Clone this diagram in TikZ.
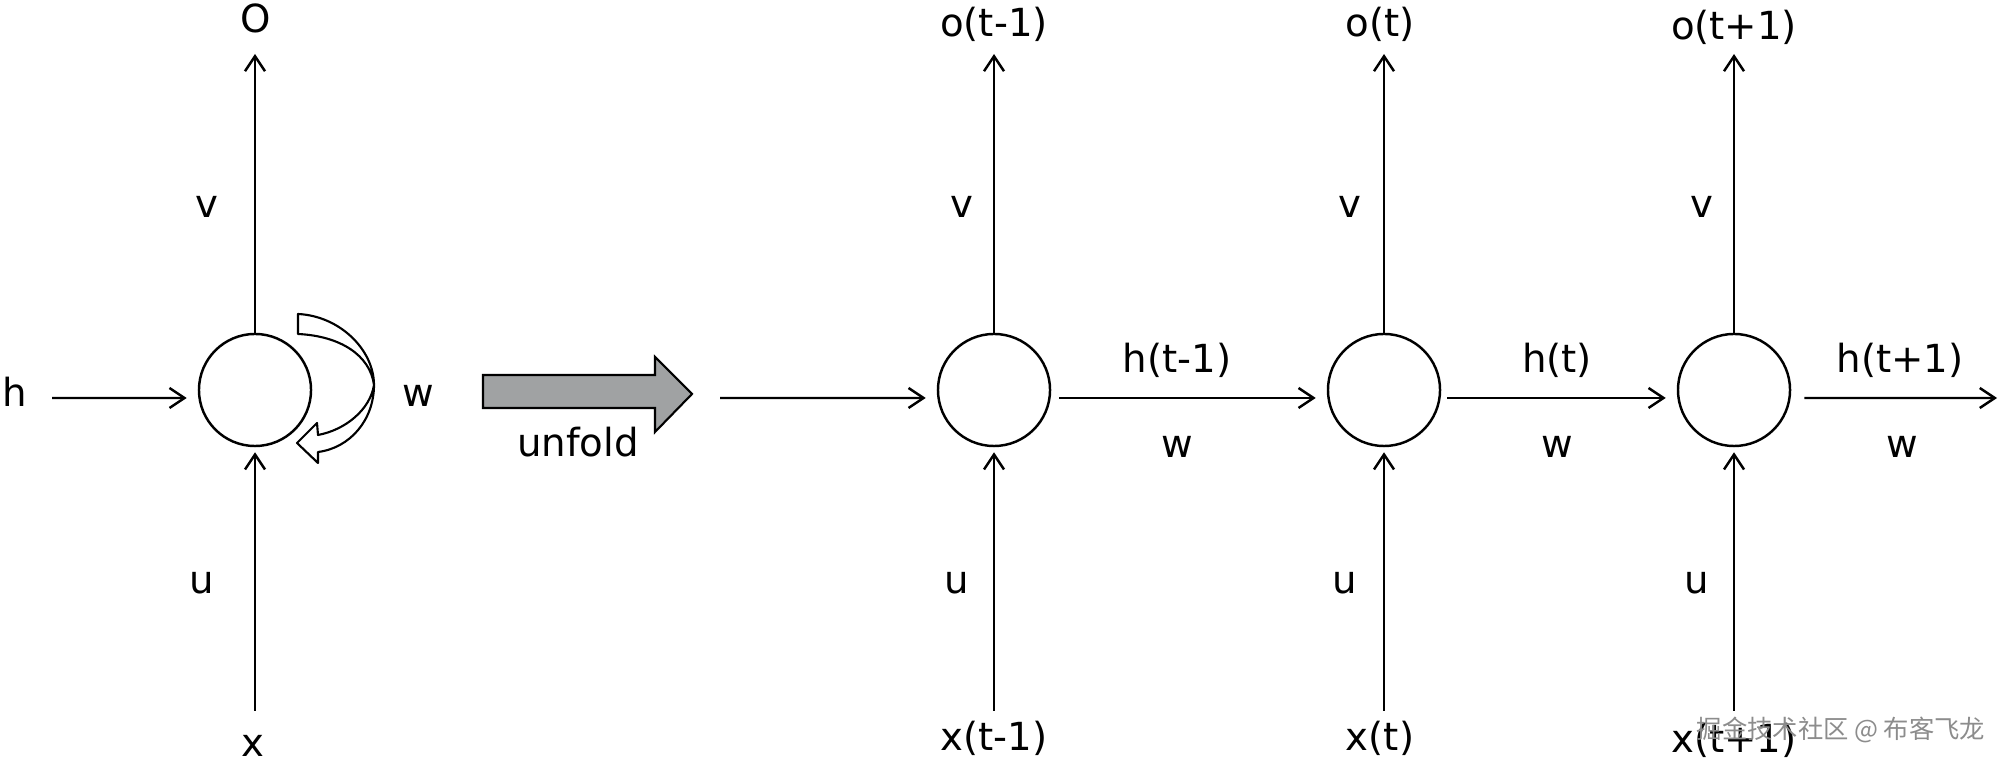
\documentclass[tikz,border=0pt]{standalone}
\usepackage{fontspec}
\setmainfont{DejaVu Sans}
\newfontfamily\cjk{Noto Sans CJK SC}
\usetikzlibrary{arrows.meta}
\definecolor{unfoldgray}{RGB}{160,162,163}
\begin{document}
\begin{tikzpicture}[x=0.01cm,y=-0.01cm,
  cell/.style={circle,draw,line width=0.7pt,minimum size=1.12cm,inner sep=0pt},
  lab/.style={anchor=base,inner sep=0pt,font=\fontsize{11pt}{13pt}\selectfont},
  conn/.style={line width=0.7pt,-{Straight Barb[length=0.15cm,width=0.2cm,line width=0.7pt]}},
  wm/.style={anchor=center,inner sep=0pt,text=black!45,font=\cjk\fontsize{7.2pt}{8pt}\selectfont}
]
\useasboundingbox (0,0) rectangle (2000,765);

% cells
\node[cell] (c1) at (255,390) {};
\node[cell] (c2) at (994,390) {};
\node[cell] (c3) at (1384,390) {};
\node[cell] (c4) at (1734,390) {};

% labels folded
\node[lab] (O) at (256,33) {O};
\node[lab] (v1) at (207,218) {v};
\node[lab] (u1) at (202,594) {u};
\node[lab] (x1) at (253,757) {x};
\node[lab] (h1) at (15,407) {h};
\node[lab] (w1) at (418,407) {w};
\node[lab] (unfold) at (578,457) {unfold};

% labels unfolded
\node[lab] (o2) at (994,37) {o(t-1)};
\node[lab] (o3) at (1380,37) {o(t)};
\node[lab] (o4) at (1734,40) {o(t+1)};
\node[lab] (x2) at (994,751) {x(t-1)};
\node[lab] (x3) at (1380,751) {x(t)};
\node[lab] (x4) at (1734,753) {x(t+1)};
\node[lab] (v2) at (962,218) {v};
\node[lab] (v3) at (1350,218) {v};
\node[lab] (v4) at (1702,218) {v};
\node[lab] (u2) at (957,594) {u};
\node[lab] (u3) at (1345,594) {u};
\node[lab] (u4) at (1697,594) {u};
\node[lab] (h2) at (1177,373) {h(t-1)};
\node[lab] (h3) at (1557,373) {h(t)};
\node[lab] (h4) at (1900,373) {h(t+1)};
\node[lab] (w2) at (1177,458) {w};
\node[lab] (w3) at (1557,458) {w};
\node[lab] (w4) at (1902,458) {w};

% free ends
\coordinate (t1) at (255,54);
\coordinate (t2) at (994,54);
\coordinate (t3) at (1384,54);
\coordinate (t4) at (1734,54);
\coordinate (b1) at (255,711);
\coordinate (b2) at (994,711);
\coordinate (b3) at (1384,711);
\coordinate (b4) at (1734,711);
\coordinate (hin) at (52,398);
\coordinate (hin2) at (720,398);
\coordinate (hout) at (1997,398);

% vertical connectors
\foreach \i in {1,2,3,4}{
  \draw[conn] (c\i.north) -- (t\i);
  \draw[conn] (b\i) -- ([yshift=-0.05cm]c\i.south);
}

% horizontal connectors
\draw[conn] (hin) -- ([xshift=-0.11cm,yshift=-0.08cm]c1.west);
\draw[conn] (hin2) -- ([xshift=-0.11cm,yshift=-0.08cm]c2.west);
\draw[conn] ([xshift=0.08cm,yshift=-0.08cm]c2.east) -- ([xshift=-0.11cm,yshift=-0.08cm]c3.west);
\draw[conn] ([xshift=0.06cm,yshift=-0.08cm]c3.east) -- ([xshift=-0.11cm,yshift=-0.08cm]c4.west);
\draw[conn] ([xshift=0.13cm,yshift=-0.08cm]c4.east) -- (hout);

% recurrent curved block arrow
\draw[line width=0.6pt,fill=white,line join=round]
  (298,314) .. controls (340,316) and (374,350) .. (374,385)
  .. controls (374,420) and (350,448) .. (318,452)
  -- (318,463) -- (297,443) -- (317,423) -- (318,435)
  .. controls (345,430) and (370,410) .. (374,385)
  .. controls (370,355) and (340,336) .. (298,334) -- cycle;

% unfold block arrow
\draw[line width=0.6pt,fill=unfoldgray,line join=miter]
  (483,375) -- (655,375) -- (655,357) -- (692,394) -- (655,432) -- (655,408) -- (483,408) -- cycle;

% watermark
\node[wm] (wmark) at (1841,730) {掘金技术社区 @ 布客飞龙};
\end{tikzpicture}
\end{document}
